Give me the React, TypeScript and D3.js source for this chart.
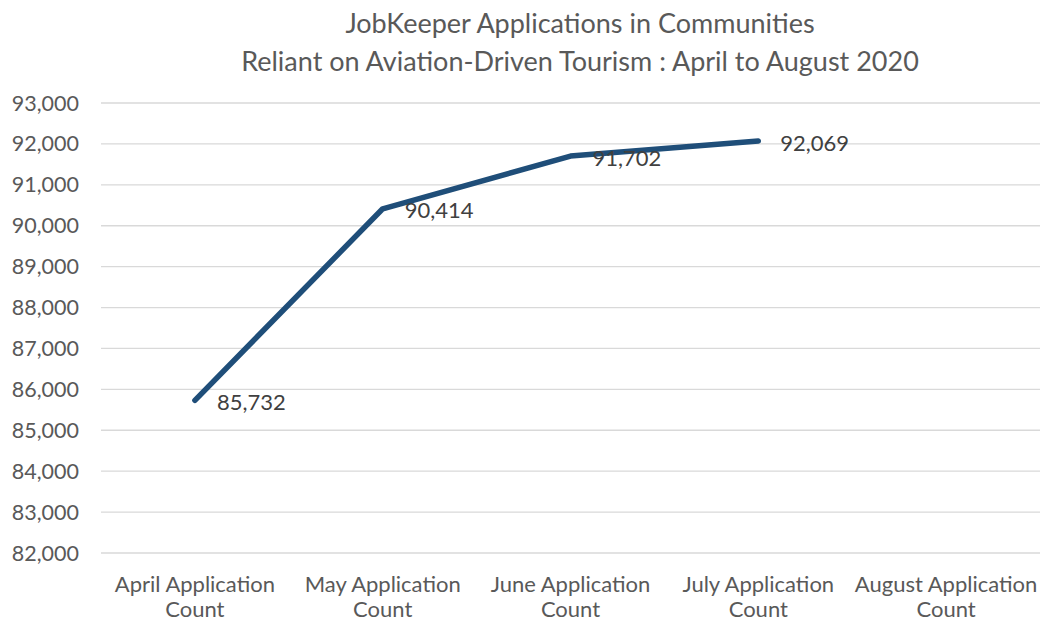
import React, { useEffect, useRef } from 'react';
import * as d3 from 'd3';

const CATEGORIES = [
    ['April Application', 'Count'],
    ['May Application', 'Count'],
    ['June Application', 'Count'],
    ['July Application', 'Count'],
    ['August Application', 'Count'],
];
const VALUES: (number | null)[] = [85732, 90414, 91702, 92069, null];
const Y_TICKS = [82000, 83000, 84000, 85000, 86000, 87000, 88000, 89000, 90000, 91000, 92000, 93000];
const TITLE_LINES = [
    'JobKeeper Applications in Communities',
    'Reliant on Aviation-Driven Tourism : April to August 2020',
];

const WIDTH = 1044;
const HEIGHT = 622;
const FONT = 'Lato, "Open Sans", sans-serif';
const LINE_COLOR = '#1f4e79';

function App()
{
    const svgRef = useRef<SVGSVGElement>(null);

    useEffect(() =>
    {
        const svg = d3.select(svgRef.current);
        svg.selectAll('*').remove();
        svg.attr('width', WIDTH).attr('height', HEIGHT).style('font-family', FONT);

        const left = 101;
        const right = 1040;
        const top = 103;
        const bottom = 553;

        const xScale = d3.scaleBand<number>()
            .domain(CATEGORIES.map((_, i) => i))
            .range([left, right]);
        const yScale = d3.scaleLinear().domain([82000, 93000]).range([bottom, top]);
        const cx = (i: number) => (xScale(i) ?? 0) + xScale.bandwidth() / 2;

        // title
        svg.append('g')
            .selectAll('text')
            .data(TITLE_LINES)
            .join('text')
            .attr('x', 580)
            .attr('y', (_, i) => 33 + i * 38)
            .attr('text-anchor', 'middle')
            .attr('font-size', 27)
            .attr('fill', '#595959')
            .text((d) => d);

        // gridlines
        svg.append('g')
            .selectAll('line')
            .data(Y_TICKS)
            .join('line')
            .attr('x1', left)
            .attr('x2', right)
            .attr('y1', (d) => yScale(d))
            .attr('y2', (d) => yScale(d))
            .attr('stroke', '#d9d9d9')
            .attr('stroke-width', 1.3);

        // y tick labels
        svg.append('g')
            .selectAll('text')
            .data(Y_TICKS)
            .join('text')
            .attr('x', 79)
            .attr('y', (d) => yScale(d))
            .attr('dy', '0.35em')
            .attr('text-anchor', 'end')
            .attr('font-size', 21.5)
            .attr('fill', '#595959')
            .text((d) => d3.format(',')(d));

        // category labels
        const cat = svg.append('g')
            .selectAll('text')
            .data(CATEGORIES)
            .join('text')
            .attr('text-anchor', 'middle')
            .attr('font-size', 22)
            .attr('fill', '#595959');
        cat.each(function (d, i)
        {
            const t = d3.select(this);
            d.forEach((line, j) =>
            {
                t.append('tspan')
                    .attr('x', cx(i))
                    .attr('y', 592 + j * 25)
                    .text(line);
            });
        });

        // series line
        const points = VALUES.map((v, i) => ({ i, v })).filter((d) => d.v !== null) as { i: number, v: number }[];
        const line = d3.line<{ i: number, v: number }>()
            .x((d) => cx(d.i))
            .y((d) => yScale(d.v));
        svg.append('path')
            .datum(points)
            .attr('fill', 'none')
            .attr('stroke', LINE_COLOR)
            .attr('stroke-width', 5.5)
            .attr('stroke-linecap', 'round')
            .attr('stroke-linejoin', 'round')
            .attr('d', line);

        // data labels
        svg.append('g')
            .selectAll('text')
            .data(points)
            .join('text')
            .attr('x', (d) => cx(d.i) + 22)
            .attr('y', (d) => yScale(d.v) + 2)
            .attr('dy', '0.35em')
            .attr('font-size', 22)
            .attr('fill', '#404040')
            .text((d) => d3.format(',')(d.v));
    }, []);

    return (
        <div style={ { position: 'absolute', left: 0, top: 0 } }>
            <svg ref={ svgRef } style={ { display: 'block' } } />
        </div>
    );
}

export default App;
